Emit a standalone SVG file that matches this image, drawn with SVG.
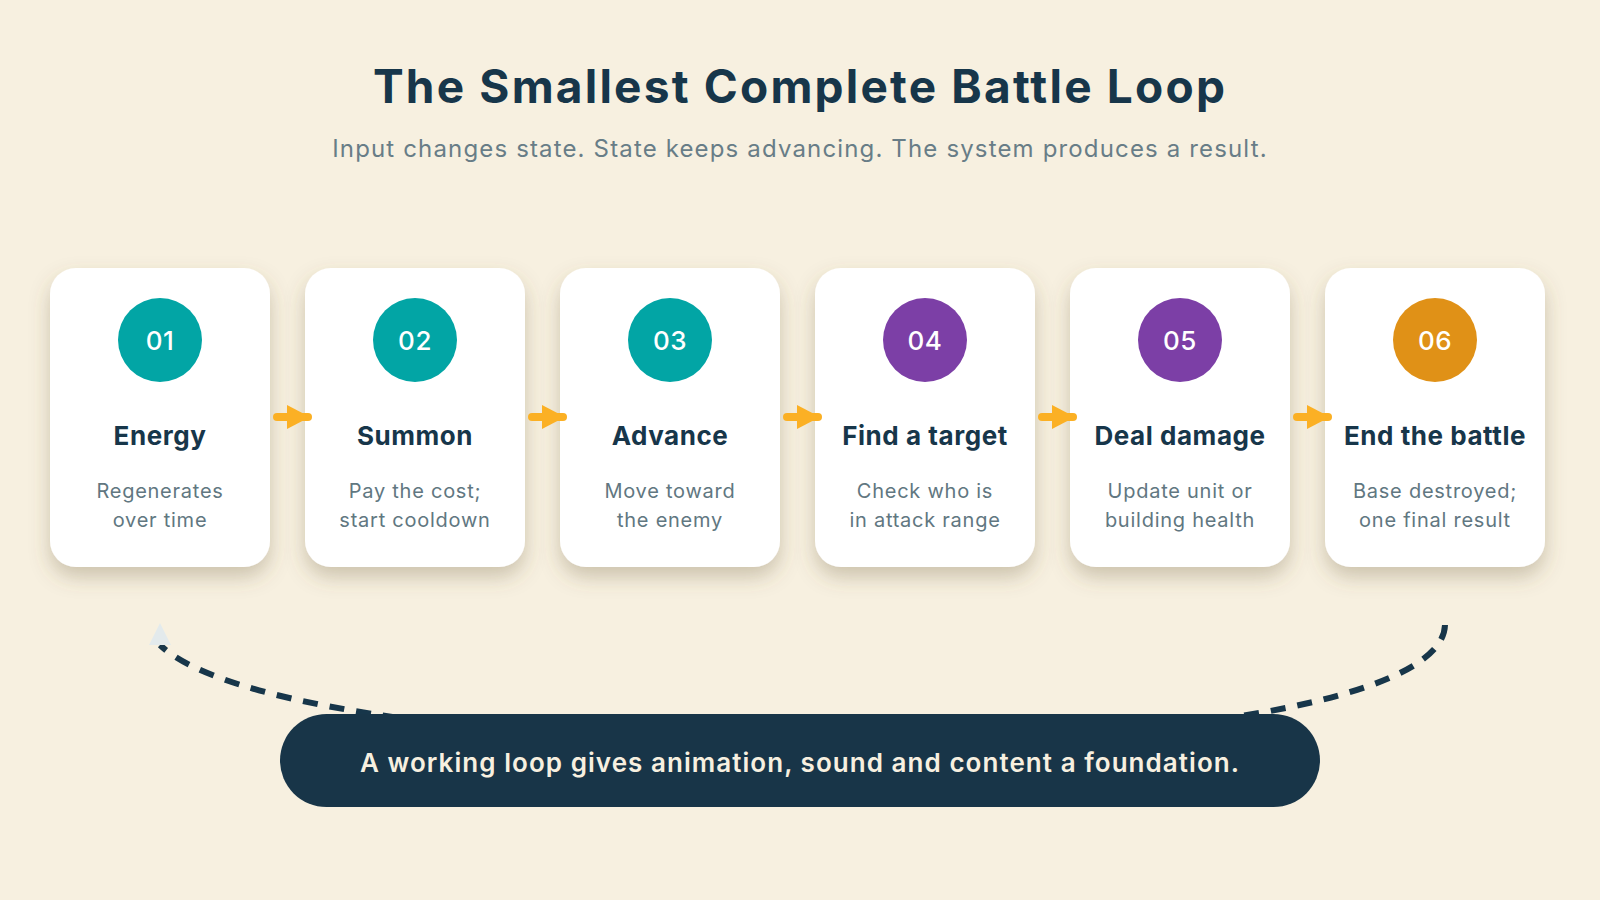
<svg xmlns="http://www.w3.org/2000/svg" width="1600" height="900" viewBox="0 0 1600 900">
  <defs>
    <filter id="shadow" x="-20%" y="-20%" width="140%" height="150%">
      <feDropShadow dx="0" dy="10" stdDeviation="10" flood-color="#6b5a3a" flood-opacity="0.3"/>
    </filter>
    <marker id="loopHead" viewBox="0 -12 24 24" markerWidth="24" markerHeight="24" refX="0" refY="0" orient="270" markerUnits="userSpaceOnUse">
      <path d="M0,-11 L22,0 L0,11 Z" fill="#e3eaec"/>
    </marker>
    <style>
      .bg { fill: #f7f0e0; }
      .title { font-family: Inter, "Noto Sans", "Liberation Sans", sans-serif; font-weight: 700; font-size: 46px; letter-spacing: 2.2px; fill: #17364a; text-anchor: middle; }
      .subtitle { font-family: Inter, "Noto Sans", "Liberation Sans", sans-serif; font-weight: 400; font-size: 24px; letter-spacing: 1.15px; fill: #687d87; text-anchor: middle; }
      .card { fill: #ffffff; filter: url(#shadow); }
      .num { font-family: Inter, "Noto Sans", "Liberation Sans", sans-serif; font-weight: 500; font-size: 26px; letter-spacing: 0.5px; fill: #ffffff; text-anchor: middle; }
      .head { font-family: Inter, "Noto Sans", "Liberation Sans", sans-serif; font-weight: 700; font-size: 26px; letter-spacing: 0.55px; fill: #17364a; text-anchor: middle; }
      .desc { font-family: Inter, "Noto Sans", "Liberation Sans", sans-serif; font-weight: 400; font-size: 20px; letter-spacing: 0.75px; fill: #617781; text-anchor: middle; }
      .teal { fill: #02a5a5; }
      .purple { fill: #7c3fa6; }
      .orange { fill: #e09117; }
      .flow { stroke: #fbb024; stroke-width: 8; stroke-linecap: round; fill: none; }
      .flowHead { fill: #fbb024; }
      .loop { fill: none; stroke: #17364a; stroke-width: 6; stroke-dasharray: 15 12; }
      .pill { fill: #183548; }
      .pillText { font-family: Inter, "Noto Sans", "Liberation Sans", sans-serif; font-weight: 600; font-size: 26px; letter-spacing: 1.05px; fill: #f7f0e0; text-anchor: middle; }
    </style>
  </defs>

  <rect class="bg" x="0" y="0" width="1600" height="900"/>

  <g id="header">
    <text class="title" x="800" y="103">The Smallest Complete Battle Loop</text>
    <text class="subtitle" x="800" y="157">Input changes state. State keeps advancing. The system produces a result.</text>
  </g>

  <g id="node-01">
    <rect class="card" x="50" y="268" width="220" height="299" rx="26"/>
    <circle class="teal" cx="160" cy="340" r="42"/>
    <text class="num" x="160" y="350">01</text>
    <text class="head" x="160" y="445">Energy</text>
    <text class="desc" x="160" y="498">Regenerates</text>
    <text class="desc" x="160" y="527">over time</text>
  </g>

  <g id="node-02">
    <rect class="card" x="305" y="268" width="220" height="299" rx="26"/>
    <circle class="teal" cx="415" cy="340" r="42"/>
    <text class="num" x="415" y="350">02</text>
    <text class="head" x="415" y="445">Summon</text>
    <text class="desc" x="415" y="498">Pay the cost;</text>
    <text class="desc" x="415" y="527">start cooldown</text>
  </g>

  <g id="node-03">
    <rect class="card" x="560" y="268" width="220" height="299" rx="26"/>
    <circle class="teal" cx="670" cy="340" r="42"/>
    <text class="num" x="670" y="350">03</text>
    <text class="head" x="670" y="445">Advance</text>
    <text class="desc" x="670" y="498">Move toward</text>
    <text class="desc" x="670" y="527">the enemy</text>
  </g>

  <g id="node-04">
    <rect class="card" x="815" y="268" width="220" height="299" rx="26"/>
    <circle class="purple" cx="925" cy="340" r="42"/>
    <text class="num" x="925" y="350">04</text>
    <text class="head" x="925" y="445">Find a target</text>
    <text class="desc" x="925" y="498">Check who is</text>
    <text class="desc" x="925" y="527">in attack range</text>
  </g>

  <g id="node-05">
    <rect class="card" x="1070" y="268" width="220" height="299" rx="26"/>
    <circle class="purple" cx="1180" cy="340" r="42"/>
    <text class="num" x="1180" y="350">05</text>
    <text class="head" x="1180" y="445">Deal damage</text>
    <text class="desc" x="1180" y="498">Update unit or</text>
    <text class="desc" x="1180" y="527">building health</text>
  </g>

  <g id="node-06">
    <rect class="card" x="1325" y="268" width="220" height="299" rx="26"/>
    <circle class="orange" cx="1435" cy="340" r="42"/>
    <text class="num" x="1435" y="350">06</text>
    <text class="head" x="1435" y="445">End the battle</text>
    <text class="desc" x="1435" y="498">Base destroyed;</text>
    <text class="desc" x="1435" y="527">one final result</text>
  </g>

  <g id="connectors">
    <path class="loop" d="M1445,625 C1440,780 300,780 160,645" marker-end="url(#loopHead)"/>
    <g>
      <line class="flow" x1="277" y1="417" x2="308" y2="417"/>
      <path class="flowHead" d="M287,405 L310,417 L287,429 Z"/>
    </g>
    <g>
      <line class="flow" x1="532" y1="417" x2="563" y2="417"/>
      <path class="flowHead" d="M542,405 L565,417 L542,429 Z"/>
    </g>
    <g>
      <line class="flow" x1="787" y1="417" x2="818" y2="417"/>
      <path class="flowHead" d="M797,405 L820,417 L797,429 Z"/>
    </g>
    <g>
      <line class="flow" x1="1042" y1="417" x2="1073" y2="417"/>
      <path class="flowHead" d="M1052,405 L1075,417 L1052,429 Z"/>
    </g>
    <g>
      <line class="flow" x1="1297" y1="417" x2="1328" y2="417"/>
      <path class="flowHead" d="M1307,405 L1330,417 L1307,429 Z"/>
    </g>
  </g>

  <g id="summary">
    <rect class="pill" x="280" y="714" width="1040" height="93" rx="46.5"/>
    <text class="pillText" x="800" y="772">A working loop gives animation, sound and content a foundation.</text>
  </g>
</svg>
